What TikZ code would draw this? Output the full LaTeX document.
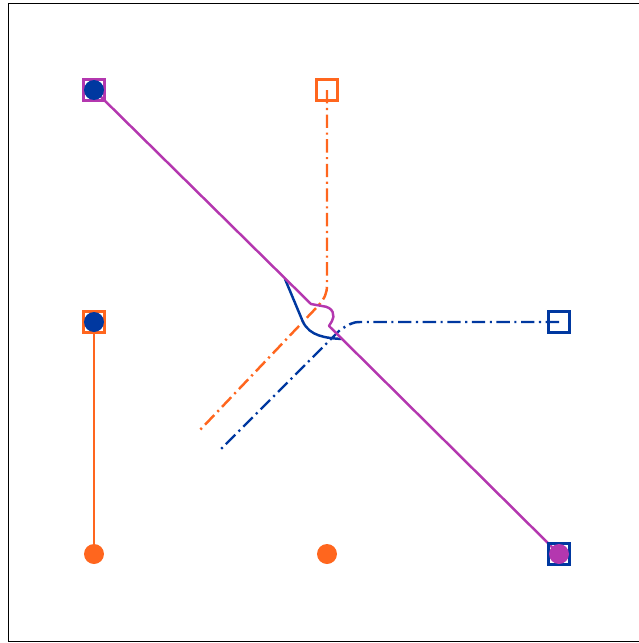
\documentclass[tikz,border=0pt]{standalone}
\usetikzlibrary{backgrounds}
\definecolor{myorange}{RGB}{255,102,30}
\definecolor{myblue}{RGB}{0,56,160}
\definecolor{mymag}{RGB}{180,55,175}
\tikzset{
  sqbox/.style={draw=#1, line width=1.8pt, minimum size=0.43cm, inner sep=0pt, fill=none},
  dotnode/.style={circle, fill=#1, draw=none, minimum size=0.40cm, inner sep=0pt},
  conn/.style={line width=1.4pt, line join=round},
  dashdotline/.style={conn, dash pattern=on 7.6pt off 2.6pt on 1.2pt off 2.6pt},
}
\begin{document}
\begin{tikzpicture}[x=0.02cm,y=-0.02cm]
\useasboundingbox (0,0) rectangle (639,643);
\draw[line width=1.1pt, black] (8.5,3.5) rectangle (660,641.5);
% squares
\node[sqbox=mymag] (tlsq) at (94,90) {};
\node[sqbox=myorange] (tm) at (327,90) {};
\node[sqbox=myorange] (mlsq) at (94,322) {};
\node[sqbox=myblue] (mr) at (559,322) {};
\node[sqbox=myblue] (brsq) at (559,554) {};
% dots
\node[dotnode=myblue] (tl) at (94,90) {};
\node[dotnode=myblue] (ml) at (94,322) {};
\node[dotnode=myorange] (bl) at (94,554) {};
\node[dotnode=myorange] (bm) at (327,554) {};
\node[dotnode=mymag] (br) at (559,554) {};
% free ends
\coordinate (oend) at (200,430);
\coordinate (bend) at (220,450);
\coordinate (bsa) at (285,279);
\coordinate (bsb) at (342,339);
\begin{scope}[on background layer]
\draw[conn, myorange] (ml.center) -- (bl.center);
\draw[dashdotline, myorange] (tm.center) -- (327,285) .. controls (327,293) and (325,298) .. (318,306) -- (oend);
\draw[dashdotline, myblue] (mr.center) -- (360,322) .. controls (352,322) and (348,325) .. (340,330) -- (bend);
\draw[conn, myblue] (bsa) -- (303,322) .. controls (310,336) and (325,338) .. (bsb);
\draw[conn, mymag] (tl.center) -- (311,304) -- (322,306) .. controls (334,307) and (335,316) .. (332,321) -- (329,326) -- (br.center);
\end{scope}
\end{tikzpicture}
\end{document}
